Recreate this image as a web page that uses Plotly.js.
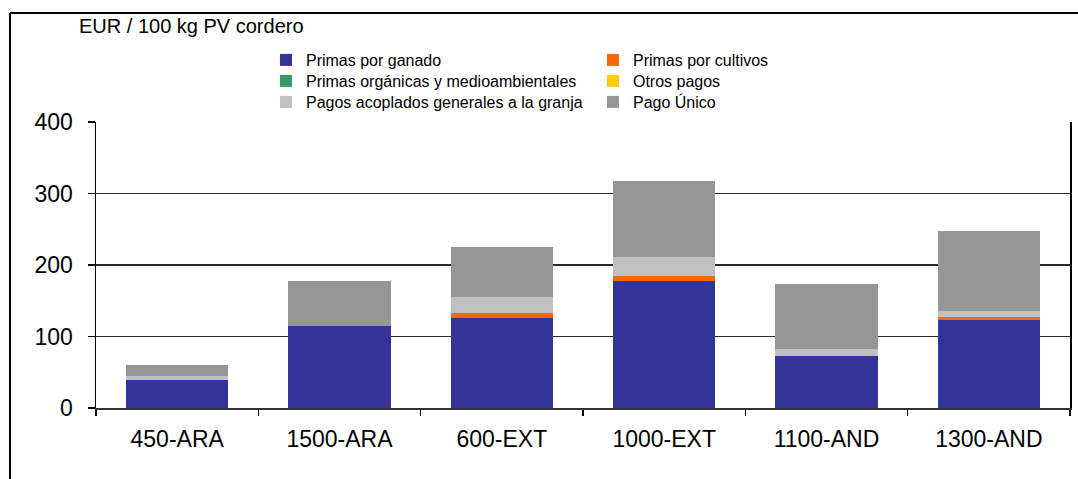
<!DOCTYPE html>
<html>
<head>
<meta charset="utf-8">
<script src="https://cdn.plot.ly/plotly-3.0.1.min.js"></script>
<style>
  html, body { margin: 0; padding: 0; background: #fff; }
  #chart { width: 1078px; height: 479px; }
</style>
</head>
<body>
<div id="chart"></div>
<script>
const categories = ['450-ARA', '1500-ARA', '600-EXT', '1000-EXT', '1100-AND', '1300-AND'];
const primasGanado      = [39, 114, 126, 177.5, 72.5, 123];
const primasCultivos    = [0, 1, 6.5, 7, 0, 4];
const primasOrganicas   = [0, 0, 0, 0, 0, 0];
const otrosPagos        = [0, 0, 0, 0, 0, 0];
const pagosAcoplados    = [5.5, 0, 22.5, 26, 10, 8.5];
const pagoUnico         = [15.5, 62.5, 70, 107, 91, 112];
const yTicks = [0, 100, 200, 300, 400];

const FONT = 'Liberation Sans, Arial, sans-serif';

function bar(name, y, color, legend) {
  return {
    type: 'bar', name: name, x: categories, y: y,
    marker: { color: color, line: { width: 0 } },
    legend: legend, hoverinfo: 'name+y'
  };
}

const data = [
  bar('Primas por ganado', primasGanado, '#333399', 'legend'),
  bar('Primas por cultivos', primasCultivos, '#FF6600', 'legend'),
  bar('Primas orgánicas y medioambientales', primasOrganicas, '#339966', 'legend2'),
  bar('Otros pagos', otrosPagos, '#FFCC00', 'legend2'),
  bar('Pagos acoplados generales a la granja', pagosAcoplados, '#C0C0C0', 'legend3'),
  bar('Pago Único', pagoUnico, '#969696', 'legend3')
];

const legBase = {
  orientation: 'h', x: 0.1745, xanchor: 'left', yanchor: 'middle',
  font: { family: FONT, size: 16, color: '#000' },
  bgcolor: 'rgba(0,0,0,0)', borderwidth: 0,
  entrywidth: 282, entrywidthmode: 'pixels',
  traceorder: 'normal', itemwidth: 30
};

const layout = {
  width: 1078, height: 479,
  margin: { l: 96, r: 8, t: 122, b: 71, pad: 0 },
  paper_bgcolor: '#fff', plot_bgcolor: '#fff',
  font: { family: FONT, color: '#000' },
  barmode: 'stack', bargap: 0.37,
  title: {
    text: 'EUR / 100 kg PV cordero',
    xref: 'container', yref: 'container',
    x: 79 / 1078, xanchor: 'left',
    y: 1 - 26 / 479, yanchor: 'middle',
    font: { family: FONT, size: 20, color: '#000' }
  },
  xaxis: {
    type: 'category', tickson: 'boundaries',
    ticks: 'outside', ticklen: 6, tickcolor: '#000', tickwidth: 1.5,
    showline: true, linecolor: '#333', linewidth: 2,
    showgrid: false, zeroline: false,
    tickfont: { family: FONT, size: 23, color: '#000' },
    ticklabelstandoff: 9, fixedrange: true
  },
  yaxis: {
    range: [0, 400], tickvals: yTicks, ticktext: yTicks.map(String),
    ticks: 'outside', ticklen: 7, tickcolor: '#000', tickwidth: 1.3,
    showline: true, linecolor: '#000', linewidth: 1.5, mirror: true,
    showgrid: true, gridcolor: '#2a2a2a', gridwidth: 1.3,
    zeroline: false,
    tickfont: { family: FONT, size: 23, color: '#000' },
    ticklabelstandoff: 10, fixedrange: true
  },
  legend: Object.assign({}, legBase, { y: (408 - 60) / 286 }),
  legend2: Object.assign({}, legBase, { y: (408 - 81) / 286 }),
  legend3: Object.assign({}, legBase, { y: (408 - 102) / 286 }),
  shapes: [
    { type: 'line', xref: 'paper', yref: 'paper',
      x0: (10 - 96) / 974, x1: (10 - 96) / 974, y0: -0.3, y1: (408 - 13) / 286,
      line: { color: '#000', width: 2 } },
    { type: 'line', xref: 'paper', yref: 'paper',
      x0: (10 - 96) / 974, x1: 1.05, y0: (408 - 13) / 286, y1: (408 - 13) / 286,
      line: { color: '#000', width: 2 } }
  ]
};

Plotly.newPlot('chart', data, layout, { displayModeBar: false, staticPlot: true });
</script>
</body>
</html>
